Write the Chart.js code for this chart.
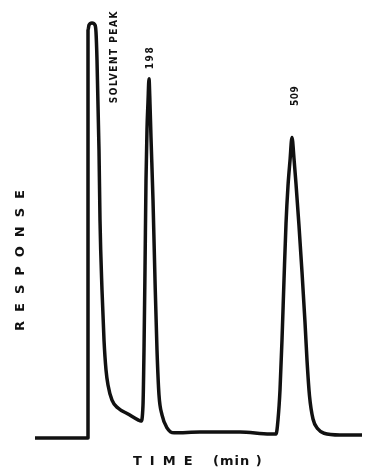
<!DOCTYPE html>
<html>
<head>
<meta charset="utf-8">
<script src="https://cdn.jsdelivr.net/npm/chart.js@4.4.1/dist/chart.umd.min.js"></script>
<style>
  html, body { margin: 0; padding: 0; background: #fff; }
  #wrap { position: relative; width: 371px; height: 472px; }
</style>
</head>
<body>
<div id="wrap"><canvas id="c" width="371" height="472"></canvas></div>
<script>
// Time (min, arbitrary scale) and detector response (% of full scale)
const timeValues = [
  0.0, 5.3, 5.3, 5.3, 5.4, 5.7, 6.0, 6.1,
  6.2, 6.4, 6.5, 6.7, 6.9, 7.1, 7.3, 7.7, 8.3, 9.3, 10.3, 10.6,
  10.8, 10.9, 11.0, 11.1, 11.2, 11.3, 11.4,
  11.5, 11.6, 11.8, 12.0, 12.2, 12.4, 12.7, 13.2, 13.9, 16.5, 20.5, 23.5, 24.1,
  24.3, 24.5, 24.7, 24.9, 25.1, 25.3, 25.5, 25.7,
  25.9, 26.1, 26.4, 26.7, 27.0, 27.2, 27.45, 27.8, 28.3, 28.9, 30.5, 32.7
];
const responseValues = [
  0.5, 0.5, 90.5, 97.6, 98.8, 99.3, 98.8, 97.1,
  90.5, 69.0, 52.4, 35.7, 23.8, 16.7, 13.1, 9.5, 7.6, 6.2, 4.8, 4.5,
  8.3, 21.4, 40.5, 61.9, 74.0, 80.5, 86.0,
  80.0, 72.0, 57.1, 38.1, 21.4, 10.7, 6.0, 2.9, 1.7, 1.9, 1.9, 1.4, 1.4,
  4.8, 11.9, 23.8, 38.1, 51.5, 60.5, 66.5, 72.0,
  67.0, 61.0, 51.0, 40.0, 28.0, 19.0, 10.5, 5.0, 2.6, 1.6, 1.2, 1.2
];
const peakLabels = ["SOLVENT PEAK", "198", "509"];
const peakLabelTimes = [7.9, 11.5, 26.0];
const peakLabelResponses = [80.2, 88.3, 79.5];
const xAxisTitle = "TIME";
const xAxisUnit = "(min )";
const yAxisTitle = "RESPONSE";

const points = timeValues.map((t, i) => ({ x: t, y: responseValues[i] }));

const textPlugin = {
  id: 'chromText',
  afterDraw(chart) {
    const ctx = chart.ctx;
    const xs = chart.scales.x, ys = chart.scales.y;
    ctx.save();
    ctx.fillStyle = '#111';
    const spacing = ['1.5px', '1.5px', '0.5px'];
    peakLabels.forEach((txt, i) => {
      const px = xs.getPixelForValue(peakLabelTimes[i]);
      const py = ys.getPixelForValue(peakLabelResponses[i]);
      ctx.save();
      ctx.translate(px, py);
      ctx.rotate(-Math.PI / 2);
      ctx.font = 'bold 10px "DejaVu Sans Condensed", "DejaVu Sans", sans-serif';
      ctx.letterSpacing = spacing[i];
      ctx.textAlign = 'left';
      ctx.textBaseline = 'middle';
      ctx.fillText(txt, 0, 0);
      ctx.restore();
    });
    // y axis title
    ctx.save();
    ctx.translate(21, 260);
    ctx.rotate(-Math.PI / 2);
    ctx.font = 'bold 13px "DejaVu Sans", sans-serif';
    ctx.letterSpacing = '9px';
    ctx.textAlign = 'center';
    ctx.textBaseline = 'middle';
    ctx.fillText(yAxisTitle, 4, 0);
    ctx.restore();
    // x axis title
    ctx.save();
    ctx.font = 'bold 13px "DejaVu Sans", sans-serif';
    ctx.textBaseline = 'middle';
    ctx.textAlign = 'left';
    ctx.letterSpacing = '8px';
    ctx.fillText(xAxisTitle, 133, 462);
    ctx.letterSpacing = '1px';
    ctx.fillText(xAxisUnit, 213, 462);
    ctx.restore();
    ctx.restore();
  }
};

new Chart(document.getElementById('c'), {
  type: 'scatter',
  data: {
    datasets: [{
      data: points,
      showLine: true,
      borderColor: '#111',
      borderWidth: 3.5,
      pointRadius: 0,
      cubicInterpolationMode: 'monotone',
      fill: false,
      borderJoinStyle: 'round',
      borderCapStyle: 'round'
    }]
  },
  options: {
    responsive: false,
    animation: false,
    layout: { padding: { left: 35, right: 9, top: 20, bottom: 32 } },
    plugins: { legend: { display: false }, tooltip: { enabled: false } },
    scales: {
      x: { type: 'linear', min: 0, max: 32.7, display: false },
      y: { type: 'linear', min: 0, max: 100, display: false }
    }
  },
  plugins: [textPlugin]
});
</script>
</body>
</html>
